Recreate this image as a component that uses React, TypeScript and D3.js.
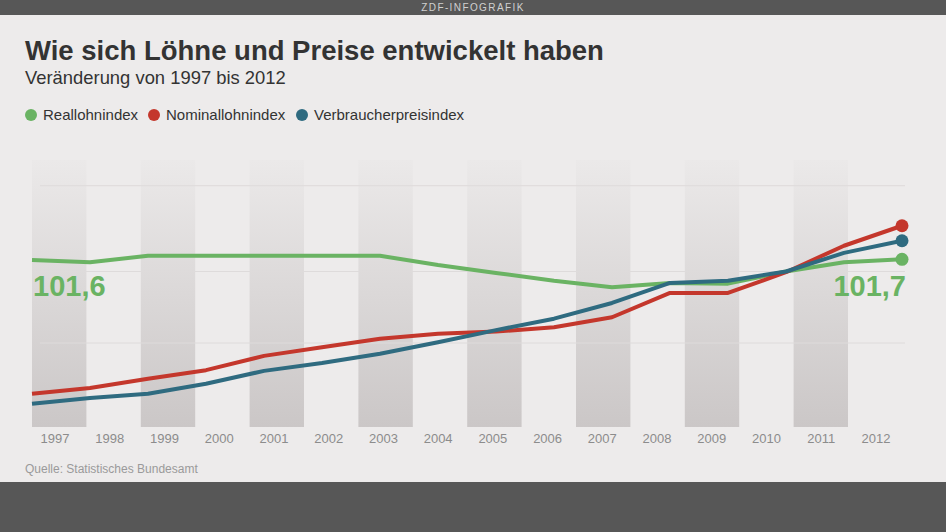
import React from "react";
import * as d3 from "d3";

const years = ["1997","1998","1999","2000","2001","2002","2003","2004","2005","2006","2007","2008","2009","2010","2011","2012"];
const reallohn = [101.6, 101.3, 102.2, 102.2, 102.2, 102.2, 102.2, 100.9, 99.8, 98.7, 97.8, 98.4, 98.3, 100.0, 101.3, 101.7];
const nominallohn = [82.9, 83.7, 85.0, 86.2, 88.2, 89.4, 90.6, 91.3, 91.6, 92.2, 93.6, 97.0, 97.0, 99.9, 103.6, 106.4];
const verbraucher = [81.5, 82.3, 82.9, 84.3, 86.1, 87.2, 88.5, 90.1, 91.8, 93.4, 95.6, 98.4, 98.7, 100.0, 102.6, 104.3];
const gridValues = [90, 100, 112];
const firstLabel = "101,6";
const lastLabel = "101,7";

const series = [
  { name: "Reallohnindex", values: reallohn, color: "#6ab363" },
  { name: "Nominallohnindex", values: nominallohn, color: "#c4372c" },
  { name: "Verbraucherpreisindex", values: verbraucher, color: "#2f6b80" },
];

const W = 946;
const H = 532;

export default function App() {
  const xPoint = d3.scalePoint<string>().domain(years).range([32, 902]);
  const xBand = d3.scaleBand<string>().domain(years).range([32, 32 + 16 * 54.4]).padding(0);
  const xLabel = d3.scalePoint<string>().domain(years).range([55, 876]);
  const y = d3.scaleLinear().domain([90, 100]).range([343, 271.5]);

  const line = d3
    .line<number>()
    .x((_, i) => xPoint(years[i]) as number)
    .y((d) => y(d));

  const font = "'Liberation Sans', Arial, Helvetica, sans-serif";

  return (
    <svg
      width={W}
      height={H}
      style={{ position: "absolute", left: 0, top: 0, fontFamily: font }}
    >
      <defs>
        <linearGradient id="bandGrad" x1="0" y1="0" x2="0" y2="1">
          <stop offset="0%" stopColor="#ebe9e9" />
          <stop offset="100%" stopColor="#cbc7c7" />
        </linearGradient>
      </defs>
      <rect x={0} y={0} width={W} height={H} fill="#edebeb" />
      <rect x={0} y={0} width={W} height={15} fill="#575757" />
      <text x={W / 2} y={11} textAnchor="middle" fontSize={10} fill="#d0d0d0" letterSpacing={1.4}>
        ZDF-INFOGRAFIK
      </text>

      <text x={25} y={60} fontSize={27.5} fontWeight="bold" fill="#333">
        Wie sich Löhne und Preise entwickelt haben
      </text>
      <text x={25} y={84} fontSize={18.4} fill="#333">
        Veränderung von 1997 bis 2012
      </text>

      {(() => {
        let xPos = 25;
        const widths = [114, 139, 0];
        return series.map((s, i) => {
          const g = (
            <g key={s.name} transform={`translate(${xPos},0)`}>
              <circle cx={6} cy={115} r={6} fill={s.color} />
              <text x={18} y={120} fontSize={15} fill="#333">
                {s.name}
              </text>
            </g>
          );
          xPos += widths[i] + 9;
          return g;
        });
      })()}

      {years.map((yr, i) =>
        i % 2 === 0 ? (
          <rect
            key={"b" + yr}
            x={xBand(yr)}
            y={160}
            width={xBand.bandwidth()}
            height={267}
            fill="url(#bandGrad)"
          />
        ) : null
      )}

      {gridValues.map((v) => (
        <line key={"g" + v} x1={40} x2={905} y1={y(v)} y2={y(v)} stroke="#dedbdb" strokeWidth={1} />
      ))}

      {years.map((yr) => (
        <text key={"t" + yr} x={xLabel(yr)} y={443} textAnchor="middle" fontSize={13} fill="#8c8c8c">
          {yr}
        </text>
      ))}

      {series.map((s) => (
        <g key={"l" + s.name}>
          <path d={line(s.values) || ""} fill="none" stroke={s.color} strokeWidth={4} strokeLinejoin="round" />
          <circle cx={xPoint(years[years.length - 1])} cy={y(s.values[s.values.length - 1])} r={6.5} fill={s.color} />
        </g>
      ))}

      <text x={33} y={296} fontSize={29} fontWeight="bold" fill="#6ab363">
        {firstLabel}
      </text>
      <text x={906} y={296} fontSize={29} fontWeight="bold" fill="#6ab363" textAnchor="end">
        {lastLabel}
      </text>

      <text x={25} y={473} fontSize={12} fill="#9a9a9a">
        Quelle: Statistisches Bundesamt
      </text>
      <rect x={0} y={482} width={W} height={50} fill="#575757" />
    </svg>
  );
}
